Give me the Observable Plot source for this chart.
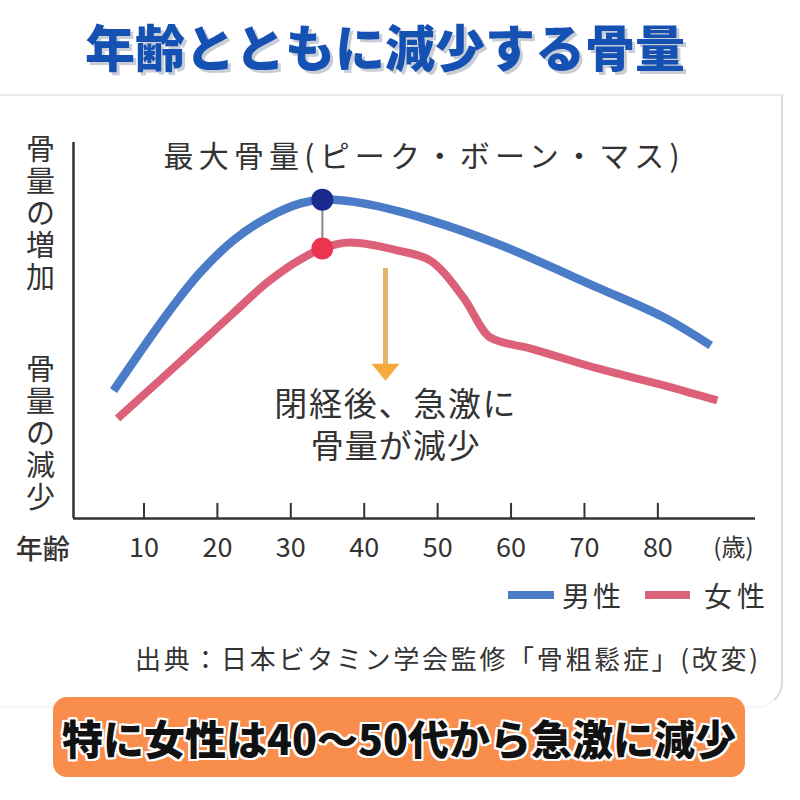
<!DOCTYPE html>
<html><head><meta charset="utf-8">
<script src="https://cdn.jsdelivr.net/npm/d3@7"></script>
<script src="https://cdn.jsdelivr.net/npm/@observablehq/plot@0.6"></script>
<style>
body{margin:0;background:#fff;font-family:"Noto Sans CJK JP",sans-serif;}
#wrap{position:relative;width:800px;height:800px;overflow:hidden;background:#fff;}
#panel{position:absolute;left:-10px;top:94px;width:791px;height:610px;border-top:2px solid #e4eaef;border-right:2px solid #d6dbe1;border-bottom:2px solid #f6f6f7;border-bottom-right-radius:26px;}
#title{position:absolute;left:85px;top:10px;font-size:50px;font-weight:900;color:#1550b3;text-shadow:3px 3px 0 #c9cdd6;white-space:nowrap;line-height:70px;}
#chart{position:absolute;left:0;top:95px;}
.sw{position:absolute;height:8px;}
.lg{position:absolute;font-size:28px;color:#333;line-height:34px;white-space:nowrap;}
#source{position:absolute;left:135px;top:641px;font-size:26px;letter-spacing:2.7px;color:#333;line-height:34px;white-space:nowrap;}
#banner{position:absolute;left:53px;top:697px;width:692px;height:80px;border-radius:14px;background:#f98e4c;text-align:center;line-height:80px;font-size:41px;font-weight:900;color:#111;white-space:nowrap;
text-shadow:2px 0 0 #fff,-2px 0 0 #fff,0 2px 0 #fff,0 -2px 0 #fff,2px 2px 0 #fff,-2px -2px 0 #fff,2px -2px 0 #fff,-2px 2px 0 #fff;}
</style></head>
<body>
<div id="wrap">
  <div id="panel"></div>
  <div id="title">年齢とともに減少する骨量</div>
  <div id="chart"></div>
  <div class="sw" style="left:508px;top:591px;width:46px;background:#4a7cc4;"></div>
  <div class="lg" style="left:562px;top:578px;letter-spacing:3px;">男性</div>
  <div class="sw" style="left:645px;top:591px;width:45px;background:#dc6478;"></div>
  <div class="lg" style="left:704px;top:578px;letter-spacing:5px;">女性</div>
  <div id="source">出典：日本ビタミン学会監修「骨粗鬆症」(改変)</div>
  <div id="banner">特に女性は40〜50代から急激に減少</div>
</div>
<script>
// ages (years) and relative bone mass (arbitrary units, 0–100)
const maleAge  = [5.85, 13.2, 17.7, 22.2, 26.8, 31.3, 34.3, 39.9, 49.0, 58.2, 71.8, 80.8, 87.2];
const maleBone = [34.0, 54.5, 65.5, 74.0, 80.0, 83.8, 84.8, 83.8, 79.3, 73.0, 61.4, 53.5, 46.0];
const femaleAge  = [6.4, 13.2, 17.7, 22.2, 26.8, 31.3, 34.3, 38.1, 44.5, 49.0, 53.5, 57.2, 62.7, 71.8, 80.8, 88.1];
const femaleBone = [26.6, 38.6, 46.6, 54.7, 62.8, 68.9, 71.8, 73.4, 71.3, 68.6, 58.8, 48.1, 45.2, 39.9, 35.4, 31.4];
const peakAge = 34.3;
const peakMale = 84.8;
const peakFemale = 71.8;
const tickValues = [10, 20, 30, 40, 50, 60, 70, 80];
const tickLabels = ["10", "20", "30", "40", "50", "60", "70", "80"];
const arrowAge = 42.9, arrowTop = 66.5, arrowBottom = 40.7, arrowHead = 38.9;
const peakText = "最大骨量(ピーク・ボーン・マス)";
const menoText = ["閉経後、急激に", "骨量が減少"];

const maleRows = maleAge.map((a, i) => ({age: a, bone: maleBone[i]}));
const femaleRows = femaleAge.map((a, i) => ({age: a, bone: femaleBone[i]}));
const tickRows = tickValues.map((v, i) => ({age: v, label: tickLabels[i]}));

const downTri = {draw(ctx) { ctx.moveTo(-14, -8.5); ctx.lineTo(14, -8.5); ctx.lineTo(0, 8.5); ctx.closePath(); }};

const chart = Plot.plot({
  width: 800, height: 595,
  marginTop: 47, marginBottom: 172, marginLeft: 73, marginRight: 45,
  x: {domain: [0.4, 93.3], axis: null},
  y: {domain: [0, 100], axis: null},
  style: {fontFamily: "'Noto Sans CJK JP', sans-serif", background: "transparent", overflow: "visible", color: "#333"},
  marks: [
    Plot.ruleY([0], {x1: 0.4, x2: 93.3, stroke: "#333", strokeWidth: 2.5}),
    Plot.ruleX([0.4], {y1: 0, y2: 100, stroke: "#333", strokeWidth: 2.5}),
    Plot.ruleX(tickRows, {x: "age", y1: 0, y2: 4, stroke: "#333", strokeWidth: 2}),
    Plot.text(tickRows, {x: "age", y: 0, dy: 30, text: "label", fontSize: 27, fill: "#333"}),
    Plot.text(["年齢"], {x: -3.8, y: -8.5, text: d => d, fontSize: 27, fill: "#333", fontWeight: 500}),
    Plot.text(["(歳)"], {x: 90.3, y: -8, text: d => d, fontSize: 24, fill: "#333"}),
    Plot.text([{t: "骨\n量\nの\n増\n加", v: 81.1}, {t: "骨\n量\nの\n減\n少", v: 22.6}],
      {x: -4.1, y: "v", text: "t", fontSize: 29, lineHeight: 1.1, fill: "#333"}),
    Plot.line(maleRows, {x: "age", y: "bone", stroke: "#4a7cc7", strokeWidth: 8.5, curve: "catmull-rom", strokeLinecap: "butt"}),
    Plot.line(femaleRows, {x: "age", y: "bone", stroke: "#dc6178", strokeWidth: 8, curve: "monotone-x", strokeLinecap: "butt"}),
    Plot.ruleX([peakAge], {y1: peakFemale, y2: peakMale, stroke: "#8a8a8a", strokeWidth: 2}),
    Plot.dot([{age: peakAge, bone: peakMale}], {x: "age", y: "bone", r: 11, fill: "#1b2a8e"}),
    Plot.dot([{age: peakAge, bone: peakFemale}], {x: "age", y: "bone", r: 11, fill: "#ec3350"}),
    Plot.ruleX([arrowAge], {y1: arrowBottom, y2: arrowTop, stroke: "#e3b46a", strokeWidth: 5}),
    Plot.dot([{age: arrowAge, bone: arrowHead}], {x: "age", y: "bone", symbol: downTri, fill: "#f4aa3c", stroke: "none", r: 10}),
    Plot.text([peakText], {x: 12.66, y: 96, text: d => d, textAnchor: "start", fontSize: 30, fill: "#333"}),
    Plot.text([{t: menoText[0], v: 30.05}, {t: menoText[1], v: 18.9}], {x: 44.3, y: "v", text: "t", fontSize: 33, fill: "#333"})
  ]
});
// letter spacing for annotation texts
d3.select(chart).selectAll("text").each(function() {
  const s = this.textContent;
  if (s === peakText) this.style.letterSpacing = "5.2px";
  else if (s === menoText[0]) this.style.letterSpacing = "1.7px";
  else if (s === menoText[1]) this.style.letterSpacing = "1px";
});
document.getElementById("chart").appendChild(chart);
</script>
</body></html>
